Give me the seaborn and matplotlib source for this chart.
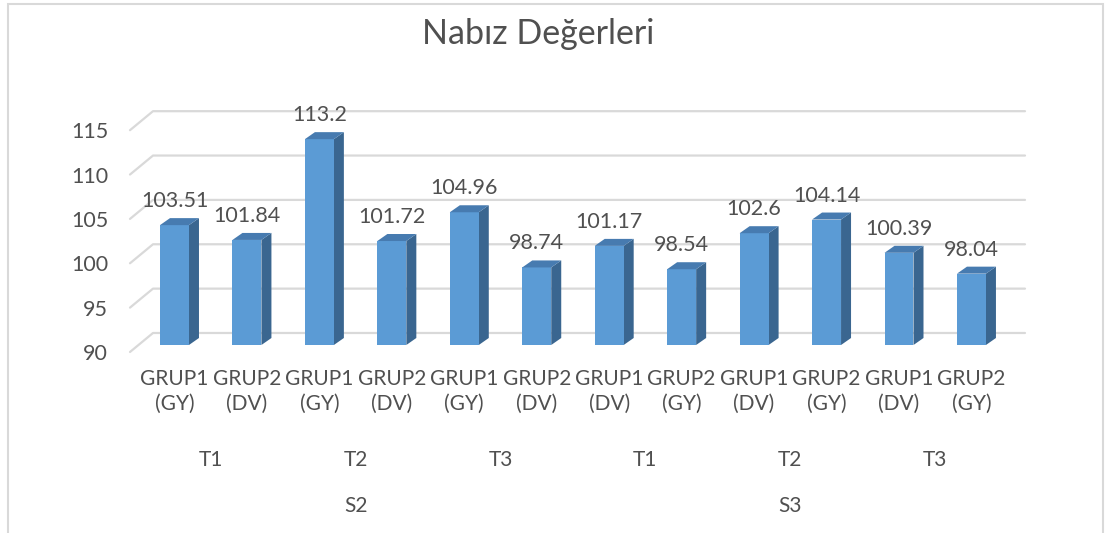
import pandas as pd
import matplotlib
matplotlib.use("Agg")
import matplotlib.pyplot as plt
import matplotlib.transforms as mtrans
from matplotlib.patches import Polygon, Rectangle
import seaborn as sns

# ---- data ----
sessions = ["S2"] * 6 + ["S3"] * 6
times = ["T1", "T1", "T2", "T2", "T3", "T3"] * 2
groups = ["GRUP1\n(GY)", "GRUP2\n(DV)"] * 3 + ["GRUP1\n(DV)", "GRUP2\n(GY)"] * 3
values = [103.51, 101.84, 113.2, 101.72, 104.96, 98.74,
          101.17, 98.54, 102.6, 104.14, 100.39, 98.04]
yticks = [90, 95, 100, 105, 110, 115]
BASE = 90

TEXT = "#505050"
GRID = "#D9D9D9"
FRONT = "#5B9BD5"
SIDE = "#3A6690"
TOP = "#477BB0"

sns.set_theme(style="white")
plt.rcParams["font.family"] = ["Lato", "DejaVu Sans"]

df = pd.DataFrame({"key": [f"{s}-{t}-{g}" for s, t, g in zip(sessions, times, groups)],
                   "value": values})

W, H = 1105, 533
fig = plt.figure(figsize=(W / 100, H / 100), dpi=100)
fig.patch.set_facecolor("white")

# chart frame
fig.add_artist(Rectangle((8 / W, -0.05), 1095 / W, 1.05 - 4 / H, transform=fig.transFigure,
                         fill=False, edgecolor=GRID, linewidth=1.5))

ax_l, ax_r, ax_top, ax_bot = 130, 1025, 101, 358.3
ax = fig.add_axes([ax_l / W, 1 - ax_bot / H, (ax_r - ax_l) / W, (ax_bot - ax_top) / H])
xlim = (-0.614, 11.739)
ylim = (88.5, 117.5)
ux = (xlim[1] - xlim[0]) / (ax_r - ax_l)
uy = (ylim[1] - ylim[0]) / (ax_bot - ax_top)

sns.barplot(data=df, x="key", y="value", color=FRONT, saturation=1, width=0.4,
            ax=ax, zorder=3, linewidth=0)
ax.set_xlim(*xlim)
ax.set_ylim(*ylim)

# back wall gridlines with the left diagonal
for v in yticks:
    ax.plot([xlim[0], xlim[0] + 23 * ux, xlim[1]],
            [v - 7 * uy, v + 12 * uy, v + 12 * uy],
            color=GRID, linewidth=1.6, zorder=1, clip_on=False)

# 3d look for each bar
dx, dy = 10 * ux, 7 * uy
up = mtrans.ScaledTranslation(0, 24 / 100, fig.dpi_scale_trans)
for p, v in zip(ax.patches, values):
    p.set_y(BASE)
    p.set_height(v - BASE)
    x0 = p.get_x()
    x1 = x0 + p.get_width()
    ax.add_patch(Polygon([(x1, BASE), (x1, v), (x1 + dx, v + dy), (x1 + dx, BASE + dy)],
                         closed=True, facecolor=SIDE, edgecolor="none", zorder=2.9))
    ax.add_patch(Polygon([(x0, v), (x1, v), (x1 + dx, v + dy), (x0 + dx, v + dy)],
                         closed=True, facecolor=TOP, edgecolor="none", zorder=3.1))
    ax.text(x0 + p.get_width() / 2, v, f"{v:g}", transform=ax.transData + up,
            ha="center", va="center", fontsize=15.5, color=TEXT)

for s in ax.spines.values():
    s.set_visible(False)
ax.grid(False)
ax.set_xlabel("")
ax.set_ylabel("")

ax.set_yticks(yticks)
ax.tick_params(axis="y", length=0, pad=15.8, labelsize=15.5, labelcolor=TEXT)
shift = mtrans.ScaledTranslation(0, -7 / 100, fig.dpi_scale_trans)
for lbl in ax.get_yticklabels():
    lbl.set_transform(lbl.get_transform() + shift)

ax.set_xticks(range(len(groups)))
ax.set_xticklabels(groups, linespacing=1.35)
ax.tick_params(axis="x", length=0, pad=7.5, labelsize=15, labelcolor=TEXT)

# second and third level category labels
xt = ax.get_xaxis_transform()
for i in range(0, len(times), 2):
    ax.text(i + 0.5, (H - 460 - (H - ax_bot)) / (ax_bot - ax_top), times[i], transform=xt,
            ha="center", va="center", fontsize=15, color=TEXT)
for i in range(0, len(sessions), 6):
    ax.text(i + 2.5, (H - 506 - (H - ax_bot)) / (ax_bot - ax_top), sessions[i], transform=xt,
            ha="center", va="center", fontsize=15, color=TEXT)

fig.text(538 / W, 1 - 44 / H, "Nabız Değerleri", ha="center", va="baseline",
         fontsize=24.5, color=TEXT)

fig.savefig("out.png", dpi=100)
